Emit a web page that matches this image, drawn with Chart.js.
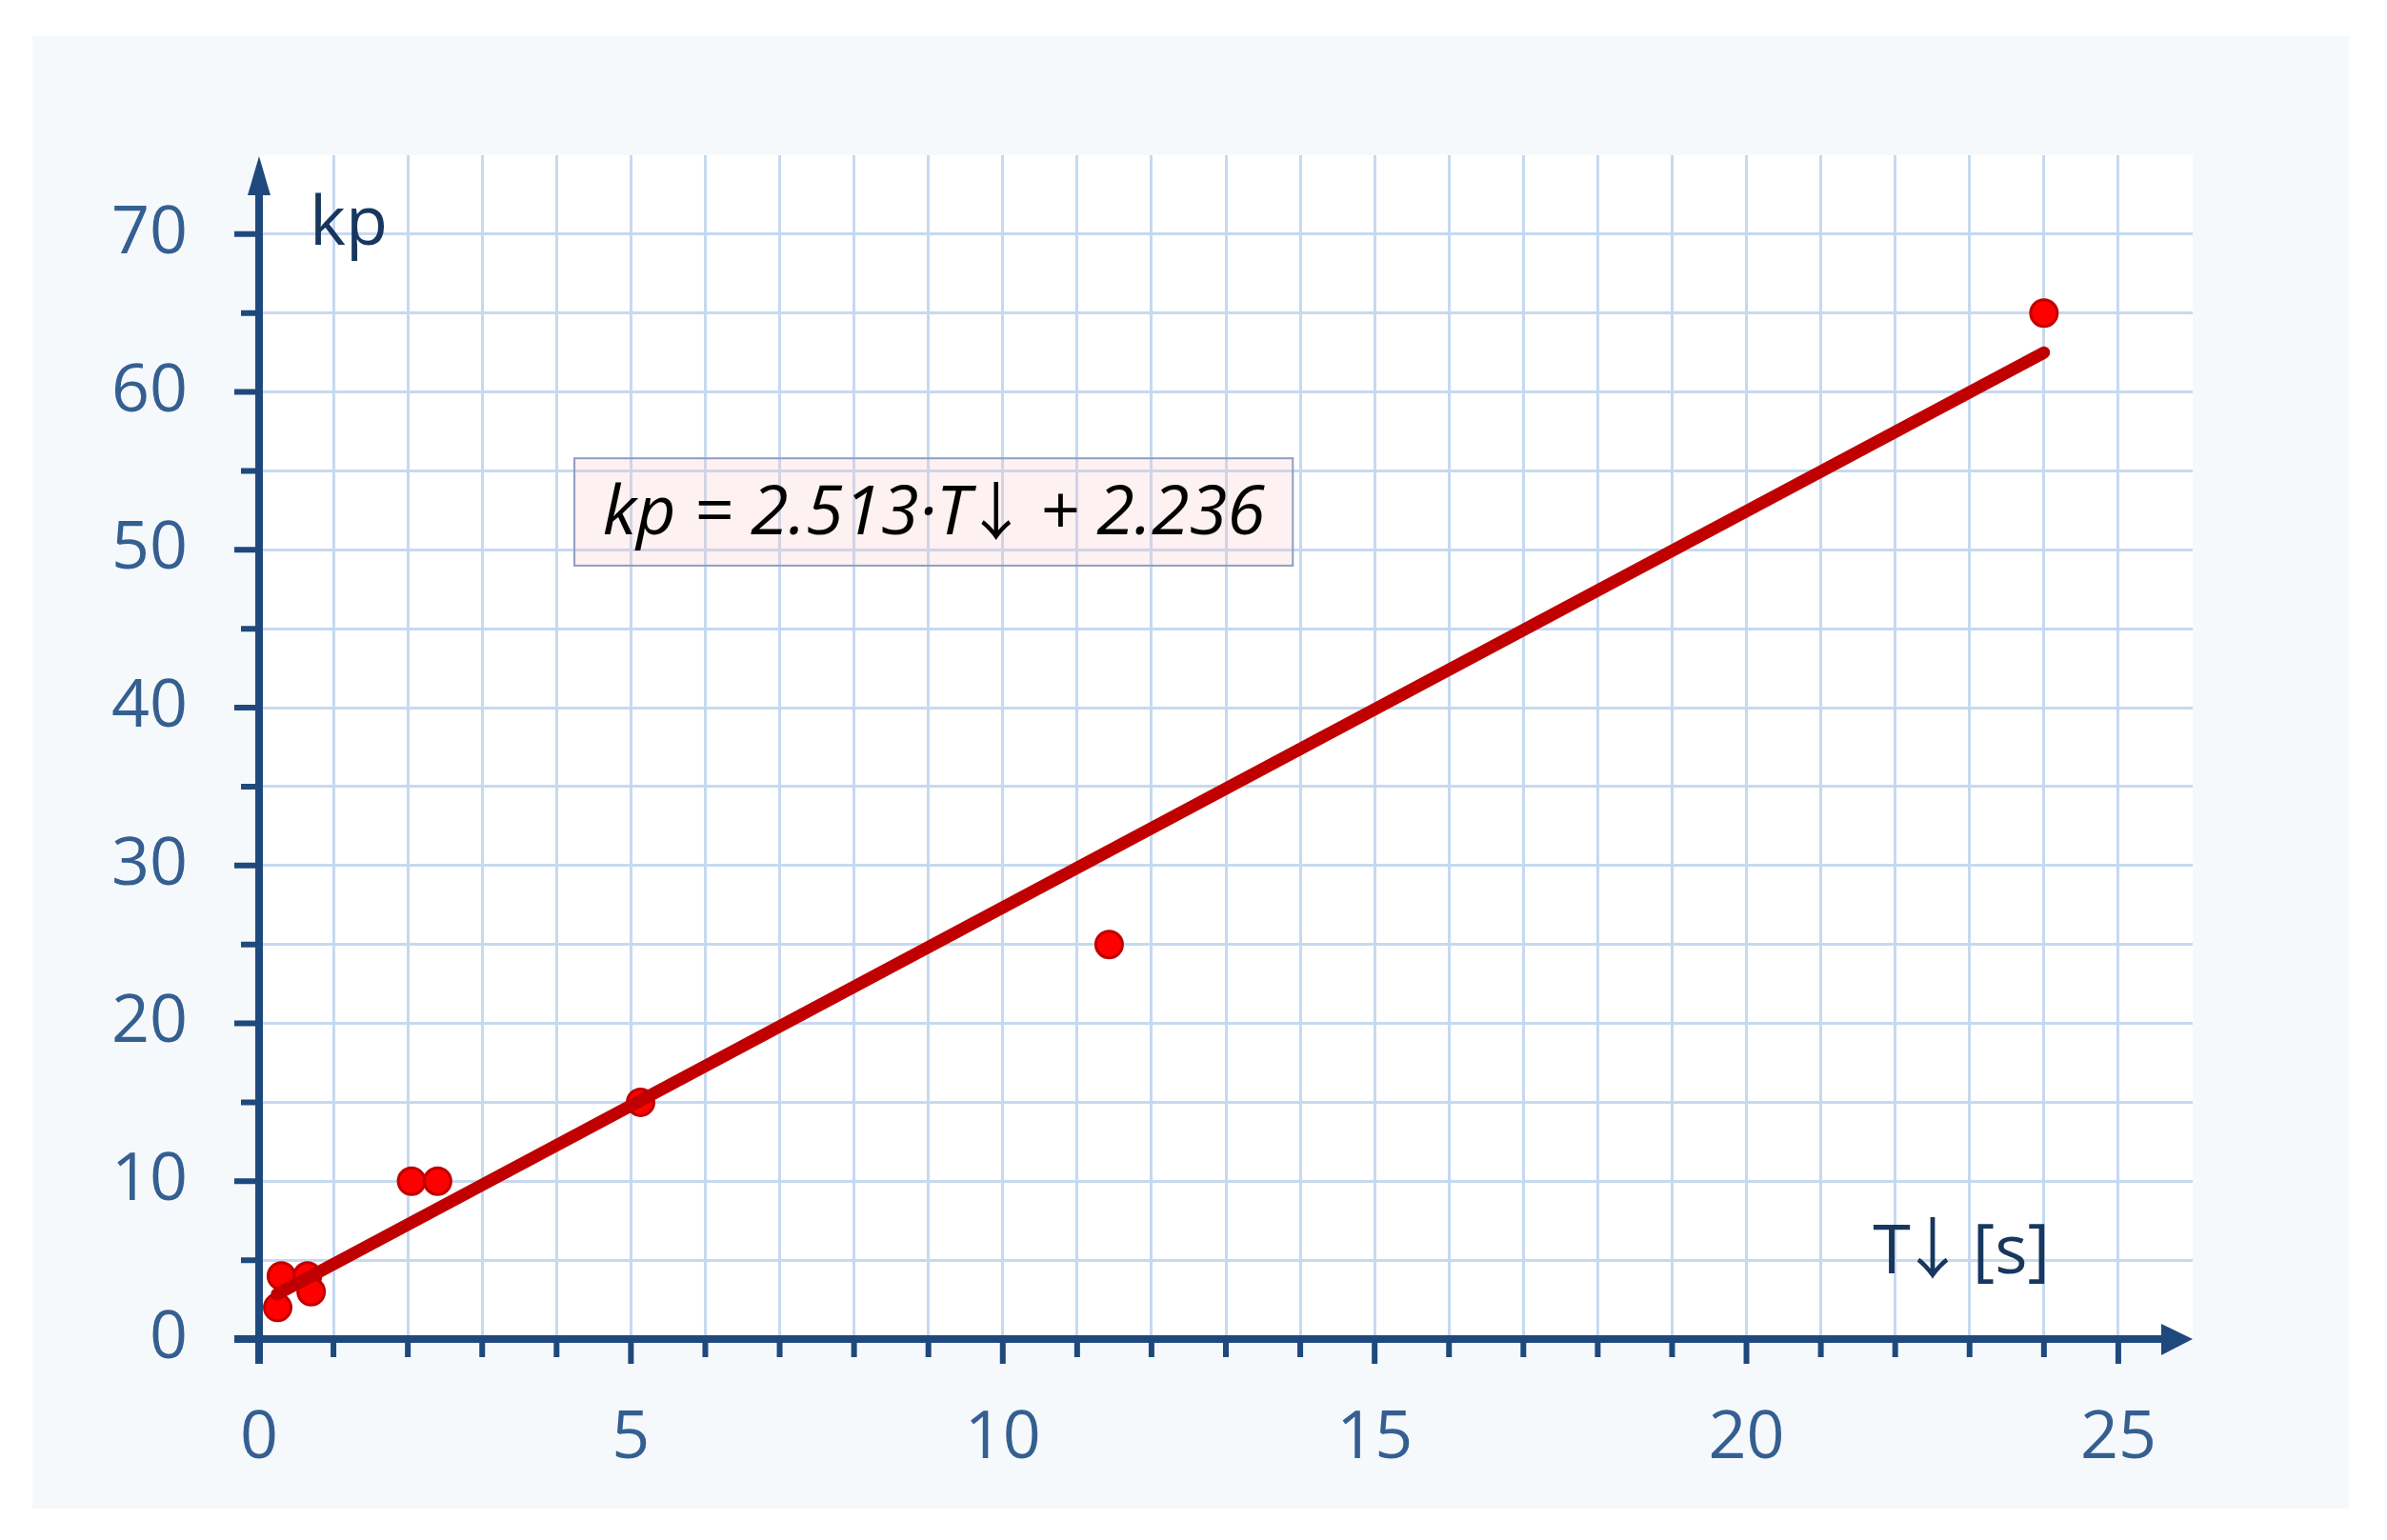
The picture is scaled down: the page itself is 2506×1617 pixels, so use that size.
<!DOCTYPE html>
<html>
<head>
<meta charset="utf-8">
<script src="https://cdn.jsdelivr.net/npm/chart.js@4.4.1/dist/chart.umd.min.js"></script>
<style>
  html, body { margin: 0; padding: 0; background: #ffffff; }
  canvas { display: block; }
</style>
</head>
<body>
<canvas id="chart" width="2506" height="1617"></canvas>
<script>
// measured points T↓ [s] vs kp
const tValues = [0.25, 0.3, 0.65, 0.7, 2.05, 2.4, 5.13, 11.43, 24];
const kpValues = [2, 4, 4, 3, 10, 10, 15, 25, 65];

// regression line endpoints
const fitT = [0.24, 24];
const fitKp = [2.84, 62.5];

const xTickLabels = [0, 5, 10, 15, 20, 25];
const yTickLabels = [0, 10, 20, 30, 40, 50, 60, 70];

const equationParts = ['kp = 2.513·T', '↓', ' + 2.236'];
const yTitle = 'kp';
const xTitleParts = ['T', '↓', ' [s]'];

const axisColor = '#1f497d';
const tickLabelColor = '#355f91';
const titleColor = '#17375e';
const gridColor = '#c6d9f0';
const FONT = '"Open Sans", "Noto Sans CJK SC", sans-serif';
const ARROW_FONT = '"Noto Sans CJK SC", sans-serif';

// text, arrow, text drawn one after another; the arrow glyph is full width so pull it in
function drawArrowText(ctx, parts, x, y, textFont, arrowFont, pull) {
    let px = x;
    ctx.font = textFont;
    ctx.fillText(parts[0], px, y);
    px += ctx.measureText(parts[0]).width - pull;
    ctx.font = arrowFont;
    ctx.fillText(parts[1], px, y);
    px += ctx.measureText(parts[1]).width - pull;
    ctx.font = textFont;
    ctx.fillText(parts[2], px, y);
}

// axes, arrows, ticks and annotations
const decorPlugin = {
    id: 'decor',
    beforeDraw(chart) {
        const { ctx, chartArea } = chart;
        ctx.save();
        ctx.fillStyle = '#ffffff';
        ctx.fillRect(0, 0, chart.width, chart.height);
        ctx.fillStyle = '#f5f9fc';
        ctx.fillRect(34, 38, 2432, 1546);
        ctx.fillStyle = '#ffffff';
        ctx.fillRect(chartArea.left, chartArea.top, chartArea.right - chartArea.left, chartArea.bottom - chartArea.top);
        ctx.restore();
    },
    beforeDatasetsDraw(chart) {
        const { ctx, chartArea } = chart;
        const xs = chart.scales.x;
        const ys = chart.scales.y;
        const x0 = xs.getPixelForValue(0);
        const y0 = ys.getPixelForValue(0);
        ctx.save();
        ctx.strokeStyle = axisColor;
        ctx.fillStyle = axisColor;

        // ticks
        ctx.lineWidth = 6;
        ctx.beginPath();
        for (let v = 0; v <= 70; v += 5) {
            const py = ys.getPixelForValue(v);
            const len = v % 10 === 0 ? 26 : 19;
            ctx.moveTo(x0 - len, py);
            ctx.lineTo(x0, py);
        }
        for (let v = 0; v <= 25; v += 1) {
            const px = xs.getPixelForValue(v);
            const len = v % 5 === 0 ? 26 : 19;
            ctx.moveTo(px, y0);
            ctx.lineTo(px, y0 + len);
        }
        ctx.stroke();

        // axis lines
        ctx.lineWidth = 8;
        ctx.beginPath();
        ctx.moveTo(x0, y0 + 26);
        ctx.lineTo(x0, chartArea.top + 36);
        ctx.moveTo(x0 - 26, y0);
        ctx.lineTo(chartArea.right - 30, y0);
        ctx.stroke();

        // arrow heads
        ctx.beginPath();
        ctx.moveTo(x0, chartArea.top + 1);
        ctx.lineTo(x0 - 12, chartArea.top + 42);
        ctx.lineTo(x0 + 12, chartArea.top + 42);
        ctx.closePath();
        ctx.fill();
        ctx.beginPath();
        ctx.moveTo(chartArea.right, y0);
        ctx.lineTo(chartArea.right - 33, y0 - 16);
        ctx.lineTo(chartArea.right - 33, y0 + 17);
        ctx.closePath();
        ctx.fill();
        ctx.restore();
    },
    afterDatasetsDraw(chart) {
        const { ctx } = chart;
        const xs = chart.scales.x;
        const ys = chart.scales.y;
        ctx.save();

        // equation box
        const bx0 = xs.getPixelForValue(4.24);
        const bx1 = xs.getPixelForValue(13.9);
        const by0 = ys.getPixelForValue(55.8);
        const by1 = ys.getPixelForValue(49.0);
        ctx.fillStyle = 'rgba(248, 200, 200, 0.25)';
        ctx.fillRect(bx0, by0, bx1 - bx0, by1 - by0);
        ctx.strokeStyle = '#8e9ec2';
        ctx.lineWidth = 2;
        ctx.strokeRect(bx0, by0, bx1 - bx0, by1 - by0);

        ctx.fillStyle = '#000000';
        ctx.textAlign = 'left';
        ctx.textBaseline = 'alphabetic';
        drawArrowText(ctx, equationParts,
            xs.getPixelForValue(4.62), ys.getPixelForValue(50.96),
            'italic 72px ' + FONT, '66px ' + ARROW_FONT, 6);

        // axis titles
        ctx.font = '72px ' + FONT;
        ctx.fillStyle = titleColor;
        ctx.fillText(yTitle, xs.getPixelForValue(0.68), ys.getPixelForValue(69.3));
        drawArrowText(ctx, xTitleParts,
            xs.getPixelForValue(21.7), ys.getPixelForValue(4.16),
            '72px ' + FONT, '70px ' + ARROW_FONT, 12);
        ctx.restore();
    }
};

const ctx = document.getElementById('chart').getContext('2d');

new Chart(ctx, {
    type: 'scatter',
    data: {
        datasets: [
            {
                type: 'line',
                label: 'fit',
                data: fitT.map((t, i) => ({ x: t, y: fitKp[i] })),
                borderColor: '#c00000',
                borderWidth: 13,
                borderCapStyle: 'round',
                pointRadius: 0,
                fill: false,
                order: 1,
            },
            {
                label: 'kp',
                data: tValues.map((t, i) => ({ x: t, y: kpValues[i] })),
                backgroundColor: '#ff0000',
                borderColor: '#c00000',
                borderWidth: 3,
                pointRadius: 14,
                order: 2,
            },
        ],
    },
    options: {
        responsive: false,
        animation: false,
        devicePixelRatio: 1,
        layout: {
            padding: { left: 0, right: 204, top: 163, bottom: 0 },
        },
        scales: {
            x: {
                type: 'linear',
                min: 0,
                max: 26,
                afterFit: (scale) => { scale.height = 211; },
                border: { display: false },
                grid: {
                    drawTicks: false,
                    lineWidth: 3,
                    color: (c) => (c.tick && (c.tick.value === 0 || c.tick.value === 26)) ? 'rgba(0,0,0,0)' : gridColor,
                },
                ticks: {
                    stepSize: 1,
                    autoSkip: false,
                    maxRotation: 0,
                    padding: 63,
                    color: tickLabelColor,
                    font: { family: FONT, size: 70 },
                    callback: (v) => xTickLabels.includes(v) ? String(v) : '',
                },
            },
            y: {
                type: 'linear',
                min: 0,
                max: 75,
                afterFit: (scale) => { scale.width = 272; },
                border: { display: false },
                grid: {
                    drawTicks: false,
                    lineWidth: 3,
                    color: (c) => (c.tick && (c.tick.value === 0 || c.tick.value === 75)) ? 'rgba(0,0,0,0)' : gridColor,
                },
                ticks: {
                    stepSize: 5,
                    autoSkip: false,
                    padding: 75,
                    color: tickLabelColor,
                    font: { family: FONT, size: 70 },
                    callback: (v) => yTickLabels.includes(v) ? String(v) : '',
                },
            },
        },
        plugins: {
            legend: { display: false },
            tooltip: { enabled: false },
        },
    },
    plugins: [decorPlugin],
});
</script>
</body>
</html>
